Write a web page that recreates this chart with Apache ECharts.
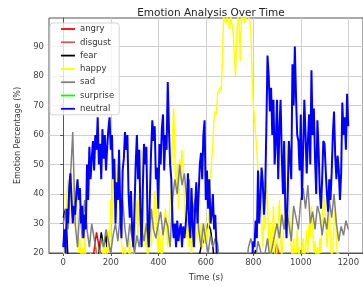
<!DOCTYPE html>
<html>
<head>
<meta charset="utf-8">
<script src="https://cdn.jsdelivr.net/npm/echarts@6/dist/echarts.min.js"></script>
<style>
  html, body { margin: 0; padding: 0; background: #fff; }
  #chart { width: 363px; height: 287px; }
</style>
</head>
<body>
<div id="chart"></div>
<script>
// emotion percentages, sampled every 5 s (neutral, happy), 10 s (sad, fear), 20 s (others)
const neutral = [
  22,28,20,35,30,42,47,38,30,36, 33,40,45,38,42,30,36,25,33,28,
  50,38,56,45,52,58,48,60,55,66, 50,57,45,62,52,60,48,56,62,66,
  55,60,45,52,30,44,38,55,35,25, 48,52,61,55,60,40,32,41,28,22,
  35,50,60,45,55,33,22,42,57,50, 56,30,22,40,55,65,58,63,45,49,
  35,57,50,62,67,48,60,55,78,62, 50,45,31,25,30,22,31,24,28,30,
  22,29,25,29,35,47,30,25,42,29, 22,35,44,30,40,50,54,45,60,65,
  38,48,35,45,30,33,40,28,33,22, 12,6,4,3,5,2,3,4,2,3,
  5,4,2,3,6,4,3,2,4,5, 3,4,6,5,8,6,10,12,9,18,
  24,22,31,25,48,30,38,49,44,33, 40,62,87,80,68,76,60,72,50,58,
  72,45,62,72,53,40,58,35,25,40, 58,52,45,84,70,90,73,60,58,48,
  67,38,55,72,60,47,58,67,50,82, 60,69,52,40,65,55,41,35,45,58,
  57,48,40,34,45,38,47,60,68,53, 45,53,48,38,47,71,60,66,55,74,63
];
const happy = [
  22,18,30,40,45,35,42,46,30,43, 38,43,28,20,25,18,22,15,27,18,
  12,16,10,20,14,18,10,15,22,18, 14,20,12,18,24,15,22,18,28,20,
  38,30,48,35,44,50,38,45,30,24, 20,15,22,18,12,18,25,15,20,14,
  22,30,38,25,42,47,55,40,30,22, 28,18,24,30,22,35,28,41,38,25,
  20,28,22,18,25,30,35,28,22,30, 38,45,60,69,52,40,50,35,52,45,
  55,48,38,30,25,32,22,28,20,25, 30,22,26,28,33,24,30,22,28,24,
  30,22,28,35,45,52,57,66,68,67, 74,75,76,75,85,100,100,98,100,100,
  96,100,100,95,88,80,92,100,98,85, 100,99,100,98,100,100,100,99,95,80,
  70,66,60,55,48,46,42,30,22,35, 28,45,38,22,30,18,25,36,20,15,
  22,30,38,25,18,24,30,45,58,50, 42,30,22,18,25,15,20,28,18,22,
  15,20,25,18,22,28,20,30,25,36, 28,20,24,18,22,15,25,20,32,40,
  38,30,22,28,34,25,18,22,30,35, 25,18,20,15,18,12,15,10,14,12,10
];
const sad = [
  30,34,28,45,61,30,22,35,25,38, 28,22,30,25,20,18,25,22,28,24,
  20,26,30,24,33,38,28,22,30,25, 20,26,22,28,24,30,22,35,28,25,
  30,34,26,32,29,22,38,45,40,50, 43,47,38,45,30,36,40,28,22,30,
  24,20,26,22,25,23,15,10,8,6, 5,7,6,5,8,10,12,15,22,25,
  20,18,24,21,16,20,25,18,22,26, 30,25,33,28,35,30,24,36,32,28,
  38,42,35,43,30,34,28,36,33,26, 32,28,38,32,40,30,24,29,26,31,28
];
const fear = [
  32,35,18,12,8,10,6,9,12,8, 10,14,9,12,15,20,27,22,26,14,
  10,8,12,9,6,8,10,7,9,11, 8,6,10,12,9,7,10,8,6,9,
  12,10,8,11,9,7,10,12,8,10, 13,9,11,8,10,12,15,18,22,24,
  27,30,28,22,14,8,5,4,3,4, 3,4,3,5,4,6,8,10,12,15,
  18,21,16,12,10,14,12,16,10,21, 12,10,14,9,12,10,15,11,9,13,
  21,12,10,14,9,11,8,12,10,9, 13,10,8,11,9,12,10,8,11,9,10
];
const angry = [
  5,8,6,9,7,12,15,27,18,10, 8,6,9,7,5,8,6,9,7,5,
  8,10,7,6,9,11,8,6,9,12, 14,10,6,3,2,3,2,3,4,6,
  9,12,10,14,16,23,12,9,11,8, 10,7,9,6,8,10,7,9,6,8,7
];
const disgust = [
  4,6,5,8,6,9,7,12,10,7, 6,5,8,6,4,7,5,6,8,5,
  6,8,5,7,9,6,8,5,7,10, 12,8,5,2,2,3,2,2,3,4,
  6,8,7,10,9,12,8,7,9,6, 8,5,7,6,8,9,6,7,5,8,6
];
const surprise = [
  2,3,2,4,3,5,3,2,4,3, 2,3,5,2,3,4,2,3,2,4,
  3,2,4,3,2,5,3,4,2,3, 4,3,2,1,1,2,1,1,2,3,
  4,3,5,4,3,6,4,3,5,4, 3,4,2,3,5,3,4,2,3,4,3
];
const xTicks = [0, 200, 400, 600, 800, 1000, 1200];
const yTicks = [20, 30, 40, 50, 60, 70, 80, 90];

const emotions = [
  { name: 'angry', data: angry, step: 20, color: '#ff0000' },
  { name: 'disgust', data: disgust, step: 20, color: '#c85a5a' },
  { name: 'fear', data: fear, step: 10, color: '#000000' },
  { name: 'happy', data: happy, step: 5, color: '#ffff00' },
  { name: 'sad', data: sad, step: 10, color: '#808080' },
  { name: 'surprise', data: surprise, step: 20, color: '#00ff00' },
  { name: 'neutral', data: neutral, step: 5, color: '#0000ff' }
];

const font = 'DejaVu Sans';
const chart = echarts.init(document.getElementById('chart'), null, { renderer: 'canvas' });

chart.setOption({
  animation: false,
  title: {
    text: 'Emotion Analysis Over Time',
    left: 206, top: 3, textAlign: 'center',
    textStyle: { fontFamily: font, fontSize: 10.5, fontWeight: 'normal', color: '#222' }
  },
  legend: {
    orient: 'vertical',
    left: 50, top: 23,
    icon: 'rect',
    itemWidth: 14, itemHeight: 1.8, itemGap: 3.3,
    padding: [1, 5, 1, 11],
    backgroundColor: 'rgba(255,255,255,0.8)',
    borderColor: '#d5d5d5', borderWidth: 1, borderRadius: 3,
    textStyle: { fontFamily: font, fontSize: 8.5, lineHeight: 10, color: '#333' },
    data: emotions.map(e => e.name)
  },
  grid: {
    left: 49, top: 18, width: 315, height: 236,
    show: true, borderColor: '#555', borderWidth: 1, backgroundColor: '#fff'
  },
  xAxis: {
    type: 'value', min: -60, max: 1262,
    name: 'Time (s)', nameLocation: 'middle', nameGap: 20,
    nameTextStyle: { fontFamily: font, fontSize: 8.5, color: '#333' },
    axisLine: { onZero: false, lineStyle: { color: '#555' } },
    axisTick: { customValues: xTicks, length: 3, lineStyle: { color: '#555' } },
    axisLabel: {
      customValues: xTicks, formatter: v => String(v),
      fontFamily: font, fontSize: 8.5, color: '#444', margin: 5
    },
    splitLine: { show: true, lineStyle: { color: '#d0d0d0', width: 1 } }
  },
  yAxis: {
    type: 'value', min: 20, max: 99.7,
    name: 'Emotion Percentage (%)', nameLocation: 'middle', nameGap: 20,
    nameTextStyle: { fontFamily: font, fontSize: 8, color: '#333' },
    axisLine: { show: true, lineStyle: { color: '#555' } },
    axisTick: { show: true, customValues: yTicks, length: 3, lineStyle: { color: '#555' } },
    axisLabel: { customValues: yTicks, fontFamily: font, fontSize: 8.5, color: '#444', margin: 5 },
    splitLine: { show: true, lineStyle: { color: '#d0d0d0', width: 1 } }
  },
  series: emotions.map(e => ({
    name: e.name,
    type: 'line',
    symbol: 'none',
    clip: true,
    data: e.data.map((v, i) => [i * e.step, v]),
    lineStyle: { color: e.color, width: e.name === 'neutral' ? 2 : 1.5 },
    itemStyle: { color: e.color }
  }))
});
</script>
</body>
</html>
